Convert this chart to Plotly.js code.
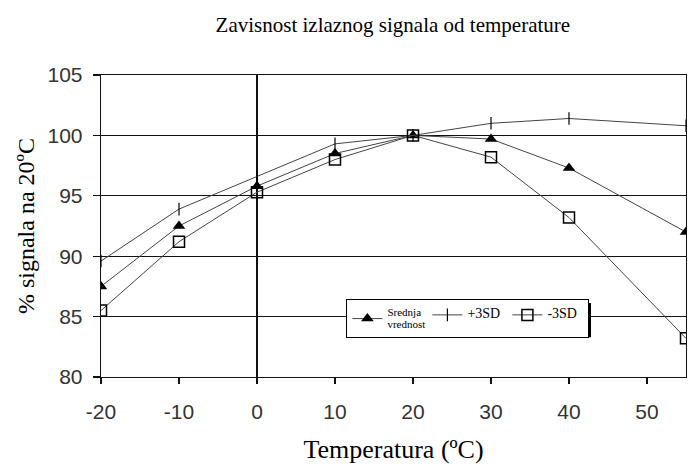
<!DOCTYPE html>
<html>
<head>
<meta charset="utf-8">
<script src="https://cdn.plot.ly/plotly-3.0.1.min.js"></script>
<style>html,body{margin:0;padding:0;background:#fff}#chart{width:688px;height:464px}</style>
</head>
<body>
<div id="chart"></div>
<script>
// Data
var temperatures = [-20, -10, 0, 10, 20, 30, 40, 55];
var srednja = [87.5, 92.5, 95.8, 98.5, 100, 99.7, 97.3, 92.0];
var plus3SD = [89.6, 93.9, 96.6, 99.3, 100, 101.0, 101.4, 100.8];
var minus3SD = [85.5, 91.2, 95.3, 98.0, 100, 98.2, 93.2, 83.2];
var seriesNames = ['<span style="font-size:11px">Srednja<br>vrednost</span>',
                   '<span style="font-size:14px">+3SD</span>',
                   '<span style="font-size:14px">-3SD</span>'];
var xTicks = [-20, -10, 0, 10, 20, 30, 40, 50];
var yTicks = [80, 85, 90, 95, 100, 105];

var lineStyle = {color: '#444', width: 1};
var traces = [
  {x: temperatures, y: srednja, name: seriesNames[0], type: 'scatter', mode: 'lines+markers',
   line: lineStyle, marker: {symbol: 'triangle-up', size: 11, color: '#000'}},
  {x: temperatures, y: plus3SD, name: seriesNames[1], type: 'scatter', mode: 'lines+markers',
   line: lineStyle, marker: {symbol: 'line-ns', size: 9, color: '#000', line: {color: '#000', width: 1.2}}},
  {x: temperatures, y: minus3SD, name: seriesNames[2], type: 'scatter', mode: 'lines+markers',
   line: lineStyle, marker: {symbol: 'square-open', size: 11, color: '#000', line: {color: '#000', width: 1.5}}}
];

var tickFont = {family: 'Liberation Sans, Arial, sans-serif', size: 21, color: '#333'};
var serif = 'Liberation Serif, Times New Roman, serif';

var layout = {
  width: 688, height: 464,
  margin: {l: 101, r: 2, t: 75, b: 87, pad: 0},
  paper_bgcolor: '#fff', plot_bgcolor: '#fff',
  showlegend: true,
  title: {text: 'Zavisnost izlaznog signala od temperature', font: {family: serif, size: 21, color: '#000'},
          x: 0.571, xanchor: 'center', y: 0.946, yanchor: 'middle', yref: 'container', xref: 'container'},
  xaxis: {range: [-20, 55], tickvals: xTicks, ticktext: xTicks.map(String), showgrid: false,
          zeroline: true, zerolinecolor: '#111', zerolinewidth: 1.3,
          showline: true, linecolor: '#111', linewidth: 1.3, mirror: true,
          ticks: 'outside', ticklen: 6, tickcolor: '#111', tickwidth: 1.3, ticklabelstandoff: 9,
          tickfont: tickFont, fixedrange: true,
          title: {text: 'Temperatura (ºC)', font: {family: serif, size: 26, color: '#000'}, standoff: 21}},
  yaxis: {range: [80, 105], tickvals: yTicks, ticktext: yTicks.map(String), showgrid: true,
          gridcolor: '#111', gridwidth: 1.3, zeroline: false,
          showline: true, linecolor: '#111', linewidth: 1.3, mirror: true,
          ticks: 'outside', ticklen: 7, tickcolor: '#111', tickwidth: 1.3, ticklabelstandoff: 6,
          tickfont: tickFont, fixedrange: true,
          title: {text: '% signala na 20ºC', font: {family: serif, size: 24, color: '#000'}, standoff: 6}},
  legend: {orientation: 'h', x: 0.419, xanchor: 'left', y: 0.258, yanchor: 'top',
           bgcolor: '#fff', bordercolor: '#000', borderwidth: 1.3,
           font: {family: serif, size: 9, color: '#000'}, itemwidth: 30, tracegroupgap: 0,
           entrywidth: 35, entrywidthmode: 'pixels'},
  shapes: [
    {type: 'rect', xref: 'paper', yref: 'paper', x0: 0.426, x1: 0.8376, y0: 0.132, y1: 0.245,
     fillcolor: '#000', line: {width: 0}, layer: 'above'}
  ]
};

Plotly.newPlot('chart', traces, layout, {displayModeBar: false, staticPlot: true});
</script>
</body>
</html>
